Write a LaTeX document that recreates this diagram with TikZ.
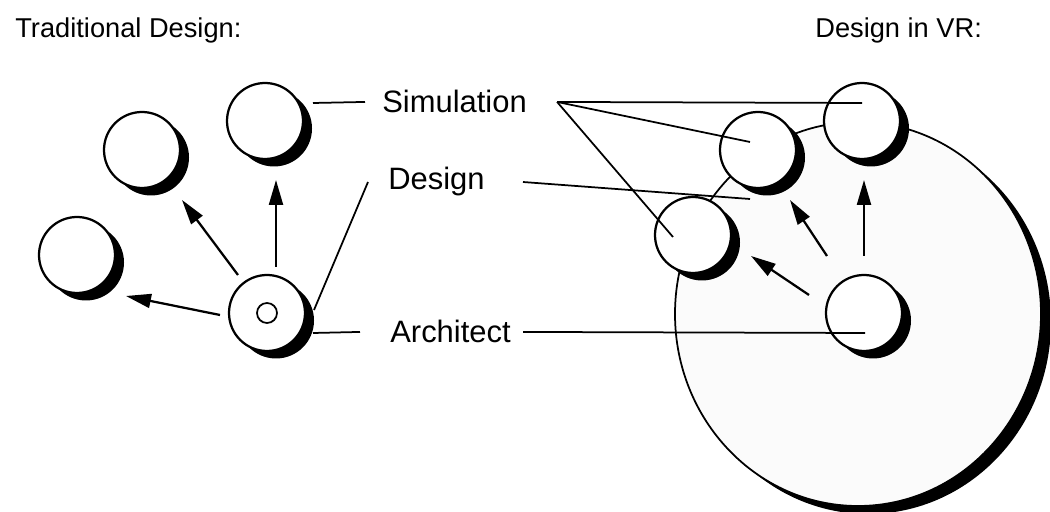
\documentclass[tikz,border=0pt]{standalone}
\usepackage{fontspec}
\setmainfont{Liberation Sans}
\usetikzlibrary{arrows.meta,shapes,positioning,shadows,calc}

\begin{document}
\begin{tikzpicture}[x=0.2mm,y=-0.2mm,
  ball/.style={circle,draw,fill=white,line width=0.45mm,minimum size=15.2mm,inner sep=0pt,
    drop shadow={shadow xshift=1.8mm,shadow yshift=-1.5mm,fill=black,opacity=1}},
  lbl/.style={inner sep=0pt,anchor=base west,font=\fontsize{17.6}{20}\selectfont},
  ttl/.style={inner sep=0pt,anchor=base west,font=\fontsize{15.5}{18}\selectfont},
  lead/.style={line width=0.35mm},
  push/.style={line width=0.45mm,-{Triangle[length=5mm,width=2.8mm]}}]
  \useasboundingbox (0,0) rectangle (1050,512);

  % titles
  \node[ttl] (ttrad) at (15,38) {Traditional Design:};
  \node[ttl] (tvr) at (815,38) {Design in VR:};

  % the shared room in VR, drawn first
  \node[ellipse,draw,fill=gray!3,line width=0.35mm,minimum width=73.2mm,minimum height=76.8mm,inner sep=0pt,
    drop shadow={shadow xshift=2mm,shadow yshift=-1.6mm,fill=black,opacity=1}] (room) at (858,314) {};

  % traditional design: architect and the others
  \node[ball] (lsim) at (265,121) {};
  \node[ball] (lmid) at (142,150) {};
  \node[ball] (lleft) at (77,255) {};
  \node[ball] (larch) at (267,313) {};
  \node[circle,draw,line width=0.35mm,minimum size=4mm,inner sep=0pt] (idea) at (larch) {};

  % design in vr
  \node[ball] (rtop) at (862,121) {};
  \node[ball] (rmid) at (758,150) {};
  \node[ball] (rleft) at (693,235) {};
  \node[ball] (rarch) at (864,313) {};

  % labels in the middle
  \node[lbl] (sim) at (382,113) {Simulation};
  \node[lbl] (des) at (388,190) {Design};
  \node[lbl] (arch) at (390,343) {Architect};

  % leaders to the left picture
  \draw[lead] ($(lsim)+(48,-18)$) -- ([xshift=-3.4mm]sim.west);
  \draw[lead] ($(larch)+(47,-3)$) -- ([xshift=-4mm]des.west);
  \draw[lead] ($(larch)+(46,20)$) -- ([xshift=-6mm]arch.west);

  % leaders to the right picture
  \coordinate (fan) at ([xshift=6mm]sim.east);
  \draw[lead] (fan) -- ($(rtop)+(0,-18)$);
  \draw[lead] (fan) -- ($(rmid)+(-8,-8)$);
  \draw[lead] (fan) -- ($(rleft)+(-20,2)$);
  \draw[lead] ([xshift=7.6mm]des.east) -- ($(rmid)+(-8,49)$);
  \draw[lead] ([xshift=2.4mm]arch.east) -- ($(rarch)+(1,20)$);

  % arrows from the architect
  \draw[push] ($(larch)+(-47,2)$) -- ($(lleft)+(49,41)$);
  \draw[push] ($(larch)+(-29,-38)$) -- ($(lmid)+(40,50)$);
  \draw[push] ($(larch)+(9,-46)$) -- ($(lsim)+(11,59)$);
  \draw[push] ($(rarch)+(0,-57)$) -- ($(rtop)+(2,59)$);
  \draw[push] ($(rarch)+(-37,-57)$) -- ($(rmid)+(32,50)$);
  \draw[push] ($(rarch)+(-55,-18)$) -- ($(rleft)+(58,21)$);
\end{tikzpicture}
\end{document}
